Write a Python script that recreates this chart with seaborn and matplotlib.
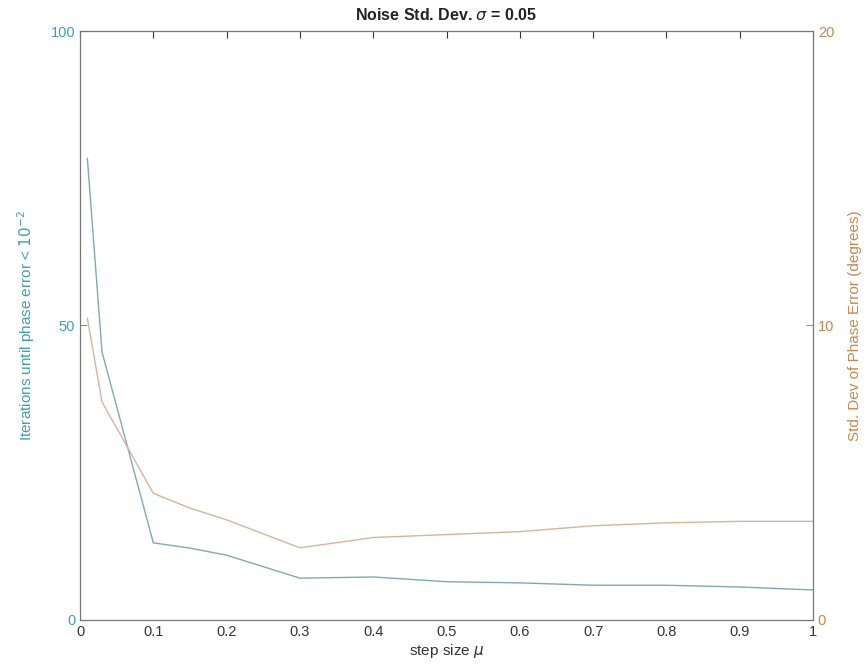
import matplotlib
matplotlib.use("Agg")
import matplotlib.pyplot as plt
import numpy as np
import pandas as pd
import seaborn as sns

step_size = [0.01, 0.03, 0.1, 0.15, 0.2, 0.3, 0.4, 0.5, 0.6, 0.7, 0.8, 0.9, 1.0]
iterations = [78.4, 45.5, 13.1, 12.2, 11.0, 7.1, 7.3, 6.5, 6.3, 5.9, 5.9, 5.6, 5.1]
std_dev_deg = [10.25, 7.4, 4.3, 3.8, 3.4, 2.45, 2.8, 2.9, 3.0, 3.2, 3.3, 3.35, 3.35]

x_ticks = [0, 0.1, 0.2, 0.3, 0.4, 0.5, 0.6, 0.7, 0.8, 0.9, 1]
x_ticklabels = ["0", "0.1", "0.2", "0.3", "0.4", "0.5", "0.6", "0.7", "0.8", "0.9", "1"]
left_ticks = [0, 50, 100]
right_ticks = [0, 10, 20]

df = pd.DataFrame({"mu": step_size, "iters": iterations, "std": std_dev_deg})

sns.set_style("white")
plt.rcParams["font.family"] = ["Liberation Sans", "DejaVu Sans"]
plt.rcParams["mathtext.fontset"] = "dejavusans"

left_col = "#3f9fb8"
right_col = "#c4894f"

fig = plt.figure(figsize=(8.66, 6.67), dpi=100)
ax = fig.add_axes([0.0924, 0.0705, 0.8464, 0.883])
ax2 = ax.twinx()

sns.lineplot(ax=ax, data=df, x="mu", y="iters", color="#7ea9b9", linewidth=1.0)
sns.lineplot(ax=ax2, data=df, x="mu", y="std", color="#d8b49a", linewidth=1.0)

ax.set_xlim(0, 1)
ax.set_ylim(0, 100)
ax2.set_ylim(0, 20)
ax.set_xticks(x_ticks)
ax.set_xticklabels(x_ticklabels)
ax.set_yticks(left_ticks)
ax2.set_yticks(right_ticks)

ax.tick_params(axis="x", direction="in", top=True, length=5, width=0.8,
               labelsize=10.5, colors="#333333")
ax.tick_params(axis="y", direction="in", length=5, width=0.8,
               labelsize=10.5, colors=left_col)
ax2.tick_params(axis="y", direction="in", length=5, width=0.8,
                labelsize=10.5, colors=right_col)

for a in (ax, ax2):
    for s in a.spines.values():
        s.set_color("#777777")
        s.set_linewidth(0.8)

ax.set_xlabel(r"step size $\mu$", fontsize=11, color="#333333", labelpad=2)
ax.set_ylabel(r"Iterations until phase error < $10^{-2}$", fontsize=11,
              color=left_col, labelpad=10)
ax2.set_ylabel("Std. Dev of Phase Error (degrees)", fontsize=11,
               color=right_col, labelpad=10)
ax.set_title(r"Noise Std. Dev. $\sigma$ = 0.05", fontsize=11.5,
             fontweight="bold", color="#222222", pad=8)

fig.savefig("out.png", dpi=100)
